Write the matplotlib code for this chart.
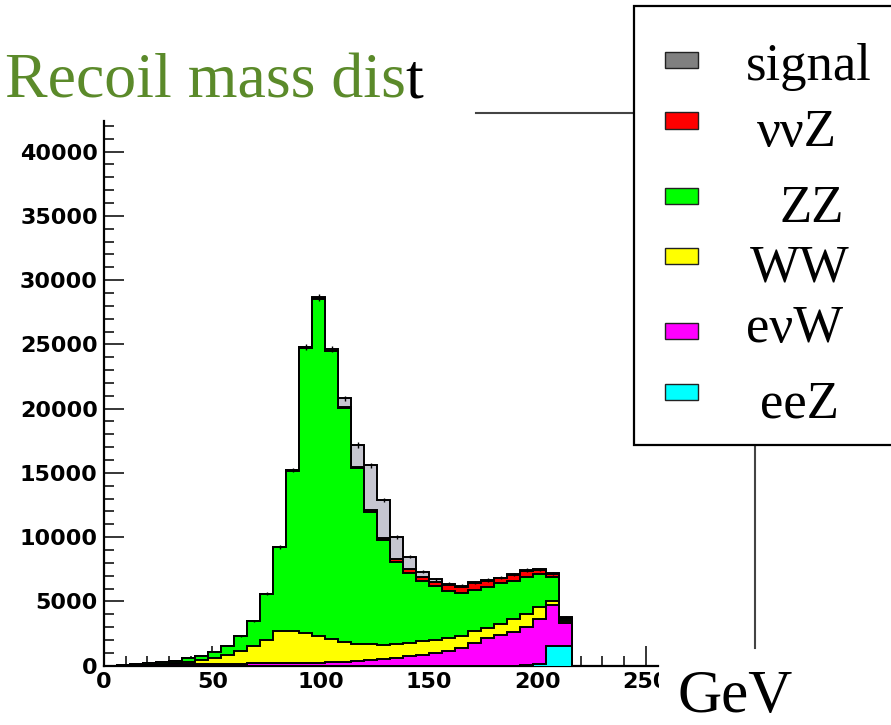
import numpy as np
import matplotlib
matplotlib.use('Agg')
import matplotlib.pyplot as plt
from matplotlib.patches import Rectangle
from matplotlib.lines import Line2D
from matplotlib.ticker import MultipleLocator

# recoil mass bins, 6 GeV wide
edges = np.arange(0, 217, 6)

# events per bin for each process
eeZ = [0, 0, 0, 0, 0, 0, 0, 0, 0, 0, 0, 0, 0, 0, 0, 0, 0, 0,
       0, 0, 0, 0, 0, 0, 0, 0, 0, 0, 0, 0, 0, 0, 30, 100, 1530, 1530]
evW = [0, 0, 20, 50, 80, 100, 120, 130, 150, 160, 170, 180, 190, 200, 200, 210, 230, 260,
       300, 360, 430, 520, 620, 730, 850, 980, 1150, 1400, 1800, 2130, 2360, 2650, 3010, 3500, 3190, 1770]
WW = [0, 10, 20, 40, 50, 100, 180, 300, 450, 690, 980, 1370, 1810, 2520, 2520, 2360, 2070, 1790,
      1550, 1340, 1220, 1100, 1060, 1050, 1050, 1020, 980, 920, 900, 820, 880, 950, 1000, 950, 330, 150]
ZZ = [0, 10, 100, 100, 140, 170, 290, 320, 480, 690, 1130, 1920, 3560, 6510, 12460, 22180, 26260, 22400,
      18180, 13660, 10330, 8160, 6410, 5460, 4710, 4200, 3710, 3360, 3200, 3200, 3170, 3010, 2880, 2560, 1830, 150]
nnZ = [0, 0, 5, 5, 5, 5, 5, 5, 5, 10, 10, 10, 10, 10, 20, 30, 40, 50,
       70, 90, 100, 130, 190, 260, 310, 340, 410, 470, 550, 470, 390, 440, 480, 340, 250, 100]
signal = [0, 10, 5, 5, 5, 5, 5, 5, 5, 10, 10, 10, 30, 20, 30, 40, 60, 140,
          700, 1720, 3520, 2980, 1760, 980, 390, 180, 110, 70, 50, 50, 50, 60, 50, 50, 60, 60]

# stacking order bottom -> top
names = ['eeZ', 'e\u03bdW', 'WW', 'ZZ', '\u03bd\u03bdZ', 'signal']
layers = [eeZ, evW, WW, ZZ, nnZ, signal]
colors = ['#00ffff', '#ff00ff', '#ffff00', '#00ff00', '#ff0000', '#c6c6d0']

W, H = 891, 725
fig = plt.figure(figsize=(W / 100, H / 100), dpi=100)

def fx(px):
    return px / W

def fy(py):
    return 1 - py / H

ax = fig.add_axes([fx(104), fy(665.7), fx(657.7) - fx(104), fy(120.7) - fy(665.7)])

cum = np.cumsum(np.array(layers, dtype=float), axis=0)

# draw from the top of the stack down, ROOT style
for i in range(len(layers) - 1, -1, -1):
    ax.stairs(cum[i], edges, fill=True, color=colors[i], lw=0, zorder=2 + (5 - i))
    ax.stairs(cum[i], edges, fill=False, color='black', lw=1.4, zorder=2.5 + (5 - i))

total = cum[-1]
centers = 0.5 * (edges[:-1] + edges[1:])
ax.errorbar(centers, total, yerr=np.sqrt(total) * 1.5, fmt='none', ecolor='black',
            elinewidth=1.0, zorder=10)

ax.set_xlim(0, 255.5)
ax.set_ylim(0, 42400)

for s in ['top', 'right']:
    ax.spines[s].set_visible(False)
for s in ['left', 'bottom']:
    ax.spines[s].set_linewidth(1.6)

ax.xaxis.set_major_locator(MultipleLocator(50))
ax.xaxis.set_minor_locator(MultipleLocator(10))
ax.yaxis.set_major_locator(MultipleLocator(5000))
ax.yaxis.set_minor_locator(MultipleLocator(1000))
ax.tick_params(which='both', direction='in', top=False, right=False, width=1.1)
ax.tick_params(which='major', length=14.5, pad=4.5)
ax.tick_params(which='minor', length=7.5)
for lab in ax.get_xticklabels() + ax.get_yticklabels():
    lab.set_fontfamily('DejaVu Sans')
    lab.set_fontweight('bold')
    lab.set_fontsize(16)
ax.patch.set_alpha(0)

# hide the cut end of the "250" label
fig.patches.append(Rectangle((fx(658.5), fy(700)), fx(676) - fx(658.5), fy(667) - fy(700),
                             transform=fig.transFigure, facecolor='white', edgecolor='none', zorder=3))

# leftover frame lines
fig.add_artist(Line2D([fx(476), fx(634)], [fy(113), fy(113)], color='#444444', lw=1.5))
fig.add_artist(Line2D([fx(755), fx(755)], [fy(445), fy(648)], color='#444444', lw=1.5))

# title
serif = 'Liberation Serif'
t1 = fig.text(fx(5), fy(98), 'Recoil mass dis', color='#5b8a2a', fontsize=46,
              family=serif, va='baseline', ha='left')
fig.canvas.draw()
bb = t1.get_window_extent()
fig.text(bb.x1 / W, fy(98), 't', color='black', fontsize=46, family=serif,
         va='baseline', ha='left')

# legend box
fig.patches.append(Rectangle((fx(634), fy(445)), fx(900) - fx(634), fy(6) - fy(445),
                             transform=fig.transFigure, facecolor='white', edgecolor='black',
                             lw=1.6, zorder=6))
leg_colors = ['#808080', '#ff0000', '#00ff00', '#ffff00', '#ff00ff', '#00ffff']
leg_labels = ['signal', '\u03bd\u03bdZ', 'ZZ', 'WW', 'e\u03bdW', 'eeZ']
box_y = [60, 120.5, 196, 256, 331, 391.5]
lab_x = [746, 757, 780, 750, 746, 760]
lab_base = [80, 146, 222, 282, 342, 417]
for c, lab, by, lx, lb in zip(leg_colors, leg_labels, box_y, lab_x, lab_base):
    fig.patches.append(Rectangle((fx(665), fy(by + 8)), fx(698) - fx(665), fy(by - 8) - fy(by + 8),
                                 transform=fig.transFigure, facecolor=c, edgecolor='#222222',
                                 lw=1.0, zorder=7))
    fig.text(fx(lx), fy(lb), lab, fontsize=38, family=serif, va='baseline', ha='left', zorder=8)

fig.text(fx(677), fy(712), 'GeV', fontsize=44, family=serif, va='baseline', ha='left')

fig.savefig('out.png', dpi=100)
